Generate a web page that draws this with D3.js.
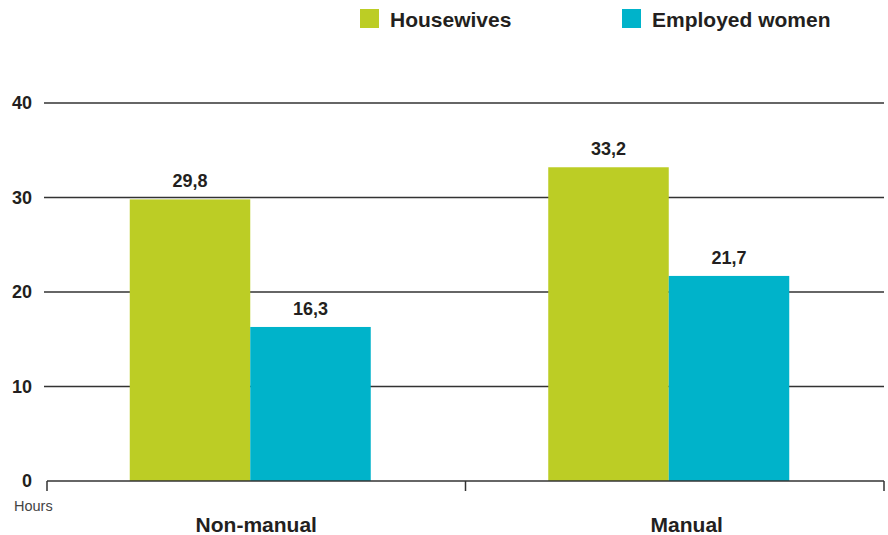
<!DOCTYPE html>
<html>
<head>
<meta charset="utf-8">
<script src="https://cdn.jsdelivr.net/npm/d3@7"></script>
<style>
  body { margin: 0; background: #fff; }
  text { font-family: "Liberation Sans", Arial, sans-serif; fill: #231f20; }
</style>
</head>
<body>
<div id="chart-area"></div>
<script>
const categories = ['Non-manual', 'Manual'];
const seriesNames = ['Housewives', 'Employed women'];
const housewives = [29.8, 33.2];
const employed = [16.3, 21.7];
const yTicks = [0, 10, 20, 30, 40];

const widthSvg = 888;
const heightSvg = 535;
const margin = { top: 103, right: 4, bottom: 54, left: 47 };
const widthChart = widthSvg - margin.left - margin.right;
const heightChart = heightSvg - margin.top - margin.bottom;
const colors = ['#bccd25', '#00b3ca'];

const rows = categories.map((c, i) => ({ category: c, values: [housewives[i], employed[i]] }));

const scaleX0 = d3.scaleBand()
  .domain(categories)
  .range([0, widthChart]);

const scaleX1 = d3.scaleBand()
  .domain(seriesNames)
  .range([0, 241]);

const scaleY = d3.scaleLinear()
  .domain([0, 40])
  .range([heightChart, 0]);

const fmt = v => d3.format('.1f')(v).replace('.', ',');

const svg = d3.select('#chart-area')
  .append('svg')
    .attr('width', widthSvg)
    .attr('height', heightSvg);

const chart = svg.append('g')
  .attr('transform', `translate(${margin.left}, ${margin.top})`);

// gridlines
chart.append('g')
  .selectAll('line')
  .data(yTicks.filter(d => d > 0))
  .join('line')
    .attr('x1', -3)
    .attr('x2', widthChart)
    .attr('y1', d => scaleY(d))
    .attr('y2', d => scaleY(d))
    .attr('stroke', '#333')
    .attr('stroke-width', 1.3);

// y labels
chart.append('g')
  .selectAll('text')
  .data(yTicks)
  .join('text')
    .attr('x', -15)
    .attr('y', d => scaleY(d))
    .attr('dy', '0.35em')
    .attr('text-anchor', 'end')
    .attr('font-size', '18px')
    .attr('font-weight', 'bold')
    .text(d => d);

// bars
const groups = chart.selectAll('.grp')
  .data(rows)
  .join('g')
    .attr('class', 'grp')
    .attr('transform', d => `translate(${scaleX0(d.category) + scaleX0.bandwidth() / 2 - 126.5}, 0)`);

groups.selectAll('rect')
  .data(d => d.values.map((v, i) => ({ name: seriesNames[i], value: v, i })))
  .join('rect')
    .attr('x', d => scaleX1(d.name))
    .attr('width', scaleX1.bandwidth())
    .attr('y', d => scaleY(d.value))
    .attr('height', d => heightChart - scaleY(d.value))
    .attr('fill', d => colors[d.i]);

groups.selectAll('.val')
  .data(d => d.values.map((v, i) => ({ name: seriesNames[i], value: v, i })))
  .join('text')
    .attr('class', 'val')
    .attr('x', d => scaleX1(d.name) + scaleX1.bandwidth() / 2)
    .attr('y', d => scaleY(d.value) - 12)
    .attr('text-anchor', 'middle')
    .attr('font-size', '18px')
    .attr('font-weight', 'bold')
    .text(d => fmt(d.value));

// x axis
chart.append('line')
  .attr('x1', 0).attr('x2', widthChart)
  .attr('y1', heightChart).attr('y2', heightChart)
  .attr('stroke', '#333').attr('stroke-width', 1.5);

const edges = [0, scaleX0.step(), widthChart];
chart.append('g')
  .selectAll('line')
  .data(edges)
  .join('line')
    .attr('x1', d => d).attr('x2', d => d)
    .attr('y1', heightChart).attr('y2', heightChart + 10)
    .attr('stroke', '#333').attr('stroke-width', 1.5);

chart.append('g')
  .selectAll('text')
  .data(categories)
  .join('text')
    .attr('x', (d, i) => scaleX0(d) + scaleX0.bandwidth() / 2 + i * 12)
    .attr('y', heightChart + 51)
    .attr('text-anchor', 'middle')
    .attr('font-size', '21px')
    .attr('font-weight', 'bold')
    .text(d => d);

svg.append('text')
  .attr('x', 14)
  .attr('y', 511)
  .attr('font-size', '14.5px')
  .style('fill', '#444')
  .text('Hours');

// legend
const legendX = [360, 622];
const legend = svg.append('g');
seriesNames.forEach((name, i) => {
  const row = legend.append('g')
    .attr('transform', `translate(${legendX[i]}, 9)`);
  row.append('rect')
    .attr('width', 19)
    .attr('height', 19)
    .attr('fill', colors[i]);
  row.append('text')
    .attr('x', 30)
    .attr('y', 18)
    .attr('font-size', '21px')
    .attr('font-weight', 'bold')
    .text(name);
});
</script>
</body>
</html>
